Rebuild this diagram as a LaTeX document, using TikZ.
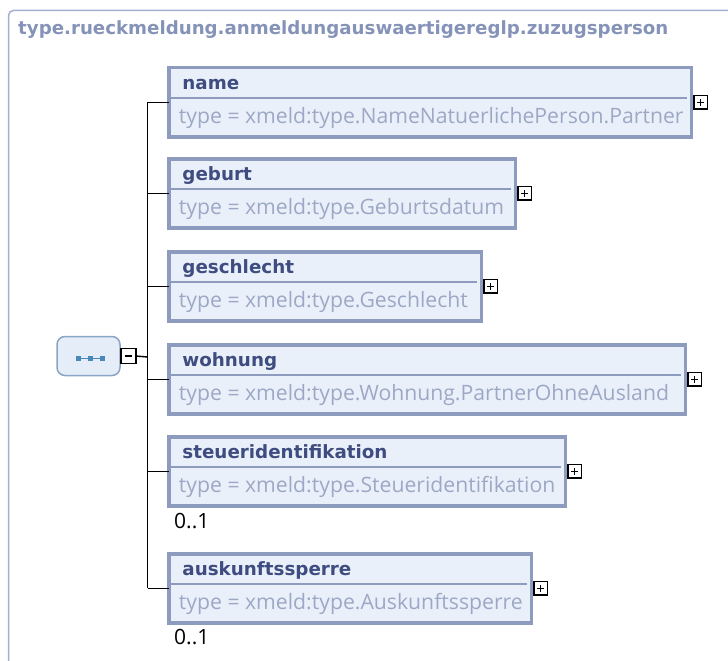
\documentclass[tikz,border=0pt]{standalone}
\usepackage{fontspec}
\setmainfont{Open Sans}
\newfontfamily\boldfont{DejaVu Sans}
\definecolor{outerc}{HTML}{A3AED2}
\definecolor{titlec}{HTML}{8593B8}
\definecolor{boxb}{HTML}{8D9BBF}
\definecolor{boxf}{HTML}{EAF0FA}
\definecolor{namec}{HTML}{3E4C80}
\definecolor{typec}{HTML}{9DA8C6}
\definecolor{seqf}{HTML}{E5EEF8}
\definecolor{seqb}{HTML}{8AA5C5}
\definecolor{seqi}{HTML}{4B88BA}
\tikzset{
  elbox/.style={draw=boxb, fill=boxf, line width=3.5pt, inner sep=0pt, outer sep=0pt, minimum height=69pt, anchor=north west},
  divider/.style={draw=boxb, line width=1.5pt},
  nametext/.style={font=\boldfont\bfseries\fontsize{18.3}{22}\selectfont, text=namec, inner sep=0pt, anchor=base west},
  typetext/.style={font=\fontsize{21.2}{24}\selectfont, text=typec, inner sep=0pt, anchor=base west},
  plusbox/.style={draw=black, fill=white, line width=1.5pt, minimum size=13.5pt, inner sep=0pt, outer sep=0pt, anchor=west},
  conn/.style={draw=black, line width=1.4pt},
  multtext/.style={font=\fontsize{21}{24}\selectfont, text=black, inner sep=0pt, anchor=base west},
}
\newcommand{\xelem}[6]{%
  \node[elbox, minimum width=#4pt] (#1) at (168.75,#3) {};
  \draw[divider] ([xshift=1.75pt,yshift=-30pt]#1.north west) -- ([xshift=-4.5pt,yshift=-30pt]#1.north east);
  \node[nametext] (#1n) at ([xshift=13.5pt,yshift=-22pt]#1.north west) {#5};
  \node[typetext] (#1t) at ([xshift=10pt,yshift=-55.5pt]#1.north west) {#6};
  \node[plusbox] (#1p) at ([xshift=2.5pt]#1.east) {};
  \draw[line width=1.5pt] ([xshift=-3.5pt]#1p.center) -- ([xshift=3.5pt]#1p.center)
        ([yshift=-3.5pt]#1p.center) -- ([yshift=3.5pt]#1p.center);
  \draw[conn] (trunk|-#1.west) -- (#1.west);
}
\begin{document}
\begin{tikzpicture}[x=1pt,y=-1pt]
\useasboundingbox (0,0) rectangle (728,661);
% outer frame
\draw[outerc, line width=1.5pt, rounded corners=5pt] (740,10.5) -- (8.5,10.5) -- (8.5,680);
\node[font=\boldfont\bfseries\fontsize{18.2}{22}\selectfont, text=titlec, anchor=base west, inner sep=0pt] (title) at (18,35) {type.rueckmeldung.anmeldungauswaertigereglp.zuzugsperson};
% trunk
\coordinate (trunk) at (147.5,357);
\coordinate (trunktop) at (147.5,101.5);
\coordinate (trunkbot) at (147.5,588);
\draw[conn] (trunktop) -- (trunkbot);
% sequence node
\node[draw=seqb, fill=seqf, line width=1.5pt, rounded corners=8pt, minimum width=63pt, minimum height=39pt, inner sep=0pt] (seq) at (88.5,356) {};
\draw[seqi, line width=0.8pt] (78.5,358.5) -- (102.5,358.5);
\foreach \xx in {78.5,90.5,102.5} \fill[seqi] (\xx-2.6,356) rectangle (\xx+2.6,361);
\node[plusbox, minimum size=15pt] (seqm) at (seq.east) {};
\draw[line width=1.5pt] ([xshift=-3.5pt]seqm.center) -- ([xshift=3.5pt]seqm.center);
\draw[conn] (seqm.east) -- (trunk);
% elements
\xelem{name}{168.75}{67.75}{522.5}{name}{type = xmeld:type.NameNatuerlichePerson.Partner}
\xelem{geburt}{168.75}{158.75}{346.5}{geburt}{type = xmeld:type.Geburtsdatum}
\xelem{geschlecht}{168.75}{251.75}{312.5}{geschlecht}{type = xmeld:type.Geschlecht}
\xelem{wohnung}{168.75}{344.75}{516.5}{wohnung}{type = xmeld:type.Wohnung.PartnerOhneAusland}
\xelem{steuer}{168.75}{436.75}{396.5}{steueridentifikation}{type = xmeld:type.Steueridentifikation}
\xelem{ausk}{168.75}{553.75}{362.5}{auskunftssperre}{type = xmeld:type.Auskunftssperre}
\node[multtext] (m1) at (174,528) {0..1};
\node[multtext] (m2) at (174,644) {0..1};
\end{tikzpicture}
\end{document}
